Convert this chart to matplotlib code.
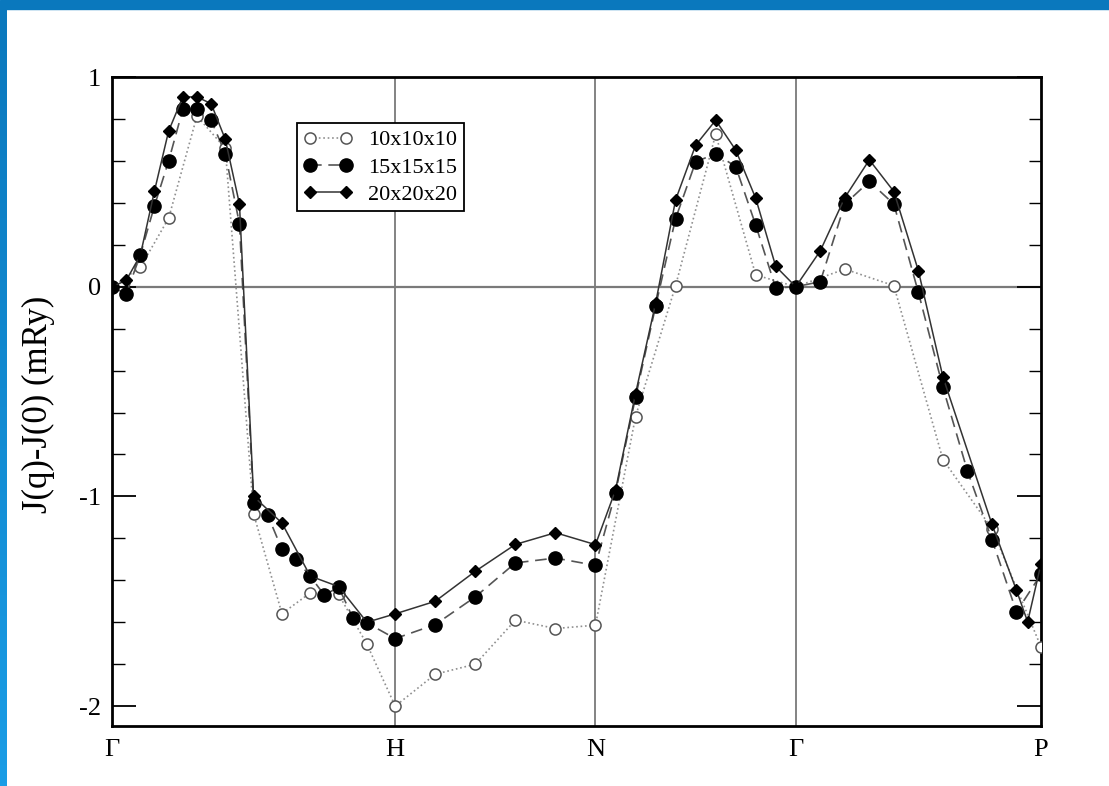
import numpy as np
import matplotlib
matplotlib.use('Agg')
import matplotlib.pyplot as plt
from matplotlib.patches import Rectangle

# k-path special points (path length, bcc): Gamma-H-N-Gamma-P
kpt_pos = [0.0, 1.0, 1.7071, 2.4142, 3.2802]
kpt_labels = ['\u0393', 'H', 'N', '\u0393', 'P']

# 10x10x10 mesh
x10 = [0.0, 0.1, 0.2, 0.3, 0.4, 0.5, 0.6, 0.7, 0.8, 0.9, 1.0,
       1.1414, 1.2828, 1.4243, 1.5657, 1.7071,
       1.8485, 1.9899, 2.1314, 2.2728, 2.4142,
       2.5874, 2.7606, 2.9338, 3.1070, 3.2802]
y10 = [0.0, 0.092, 0.327, 0.814, 0.66, -1.083, -1.559, -1.46, -1.467, -1.705, -2.0,
       -1.848, -1.80, -1.59, -1.63, -1.614,
       -0.619, 0.005, 0.727, 0.056, 0.0,
       0.084, 0.005, -0.824, -1.154, -1.718]

# 15x15x15 mesh
x15 = [0.0, 0.05, 0.1, 0.15, 0.2, 0.25, 0.3, 0.35, 0.4, 0.45, 0.5,
       0.55, 0.6, 0.65, 0.7, 0.75, 0.8, 0.85, 0.9, 1.0,
       1.1414, 1.2828, 1.4243, 1.5657, 1.7071,
       1.7778, 1.8485, 1.9192, 1.9899, 2.0607, 2.1314, 2.2021, 2.2728, 2.3435, 2.4142,
       2.5008, 2.5874, 2.6740, 2.7606, 2.8472, 2.9338, 3.0204, 3.1070, 3.1936, 3.2802]
y15 = [0.0, -0.035, 0.152, 0.386, 0.60, 0.846, 0.846, 0.794, 0.635, 0.30, -1.03,
       -1.09, -1.252, -1.30, -1.381, -1.471, -1.432, -1.578, -1.603, -1.678,
       -1.611, -1.479, -1.317, -1.294, -1.329,
       -0.982, -0.527, -0.094, 0.325, 0.595, 0.635, 0.573, 0.294, -0.006, 0.0,
       0.024, 0.394, 0.502, 0.394, -0.027, -0.48, -0.879, -1.206, -1.551, -1.371]

# 20x20x20 mesh
x20 = [0.0, 0.05, 0.1, 0.15, 0.2, 0.25, 0.3, 0.35, 0.4, 0.45, 0.5,
       0.6, 0.7, 0.8, 0.9, 1.0,
       1.1414, 1.2828, 1.4243, 1.5657, 1.7071,
       1.7778, 1.8485, 1.9192, 1.9899, 2.0607, 2.1314, 2.2021, 2.2728, 2.3435, 2.4142,
       2.5008, 2.5874, 2.6740, 2.7606, 2.8472, 2.9338, 3.1070, 3.1936, 3.233, 3.2802]
y20 = [0.0, 0.03, 0.15, 0.457, 0.743, 0.905, 0.905, 0.873, 0.703, 0.394, -1.0,
       -1.127, -1.38, -1.43, -1.60, -1.56,
       -1.50, -1.357, -1.229, -1.173, -1.23,
       -0.97, -0.51, -0.08, 0.414, 0.675, 0.794, 0.652, 0.422, 0.097, 0.0,
       0.171, 0.425, 0.605, 0.454, 0.076, -0.43, -1.133, -1.448, -1.598, -1.321]

yticks = [1, 0, -1, -2]
ytick_labels = ['1', '0', '-1', '-2']

plt.rcParams['font.family'] = ['Liberation Serif', 'DejaVu Serif']

fig = plt.figure(figsize=(11.09, 7.86), dpi=100)
ax = fig.add_axes([0.101, 0.0763, 0.8377, 0.8257])

# guide lines
for xv in kpt_pos[1:-1]:
    ax.axvline(xv, color='#7a7a7a', lw=1.3, zorder=1)
ax.axhline(0, color='#7a7a7a', lw=1.6, zorder=1)

ax.plot(x10, y10, ls=':', color='#909090', lw=1.2, marker='o', ms=8,
        mfc='white', mec='#555555', mew=1.1, label='10x10x10', zorder=3)
ax.plot(x15, y15, ls=(0, (7, 4)), color='#555555', lw=1.2, marker='o', ms=9.5,
        mfc='black', mec='black', label='15x15x15', zorder=4)
ax.plot(x20, y20, ls='-', color='#333333', lw=1.1, marker='D', ms=6.3,
        mfc='black', mec='black', label='20x20x20', zorder=5)

ax.set_xlim(kpt_pos[0], kpt_pos[-1])
ax.set_ylim(-2.095, 1.0)
ax.set_xticks(kpt_pos)
ax.set_xticklabels(kpt_labels, fontsize=19)
ax.tick_params(axis='x', length=0, pad=9)

ax.set_yticks(yticks)
ax.set_yticklabels(ytick_labels, fontsize=19)
ax.set_yticks(np.arange(-2.0, 1.0, 0.2), minor=True)
ax.tick_params(axis='y', which='major', direction='in', length=17, width=1.3,
               left=True, right=True, pad=8)
ax.tick_params(axis='y', which='minor', direction='in', length=9, width=1.0,
               left=True, right=True)
for s in ax.spines.values():
    s.set_linewidth(2.0)

ax.set_ylabel('J(q)-J(0) (mRy)', fontsize=25)
ax.yaxis.set_label_coords(-0.061, 0.495)

leg = ax.legend(loc='upper left', bbox_to_anchor=(0.199, 0.929), borderaxespad=0,
                fontsize=16, numpoints=2, handlelength=2.2, handletextpad=0.7,
                labelspacing=0.3, fancybox=False, framealpha=1, borderpad=0.3)
leg.get_frame().set_edgecolor('black')
leg.get_frame().set_linewidth(1.3)

# blue slide frame
fig.patches.append(Rectangle((0, 1 - 9 / 786), 1, 9 / 786, transform=fig.transFigure,
                             color='#0a78bd', zorder=0))
bax = fig.add_axes([0, 0, 7 / 1109, 1 - 9 / 786])
grad = np.linspace(0, 1, 256).reshape(-1, 1)
bax.imshow(grad, aspect='auto', origin='upper',
           cmap=matplotlib.colors.LinearSegmentedColormap.from_list('b', ['#0a78bd', '#1a9de6']))
bax.axis('off')

fig.savefig('out.png', dpi=100)
